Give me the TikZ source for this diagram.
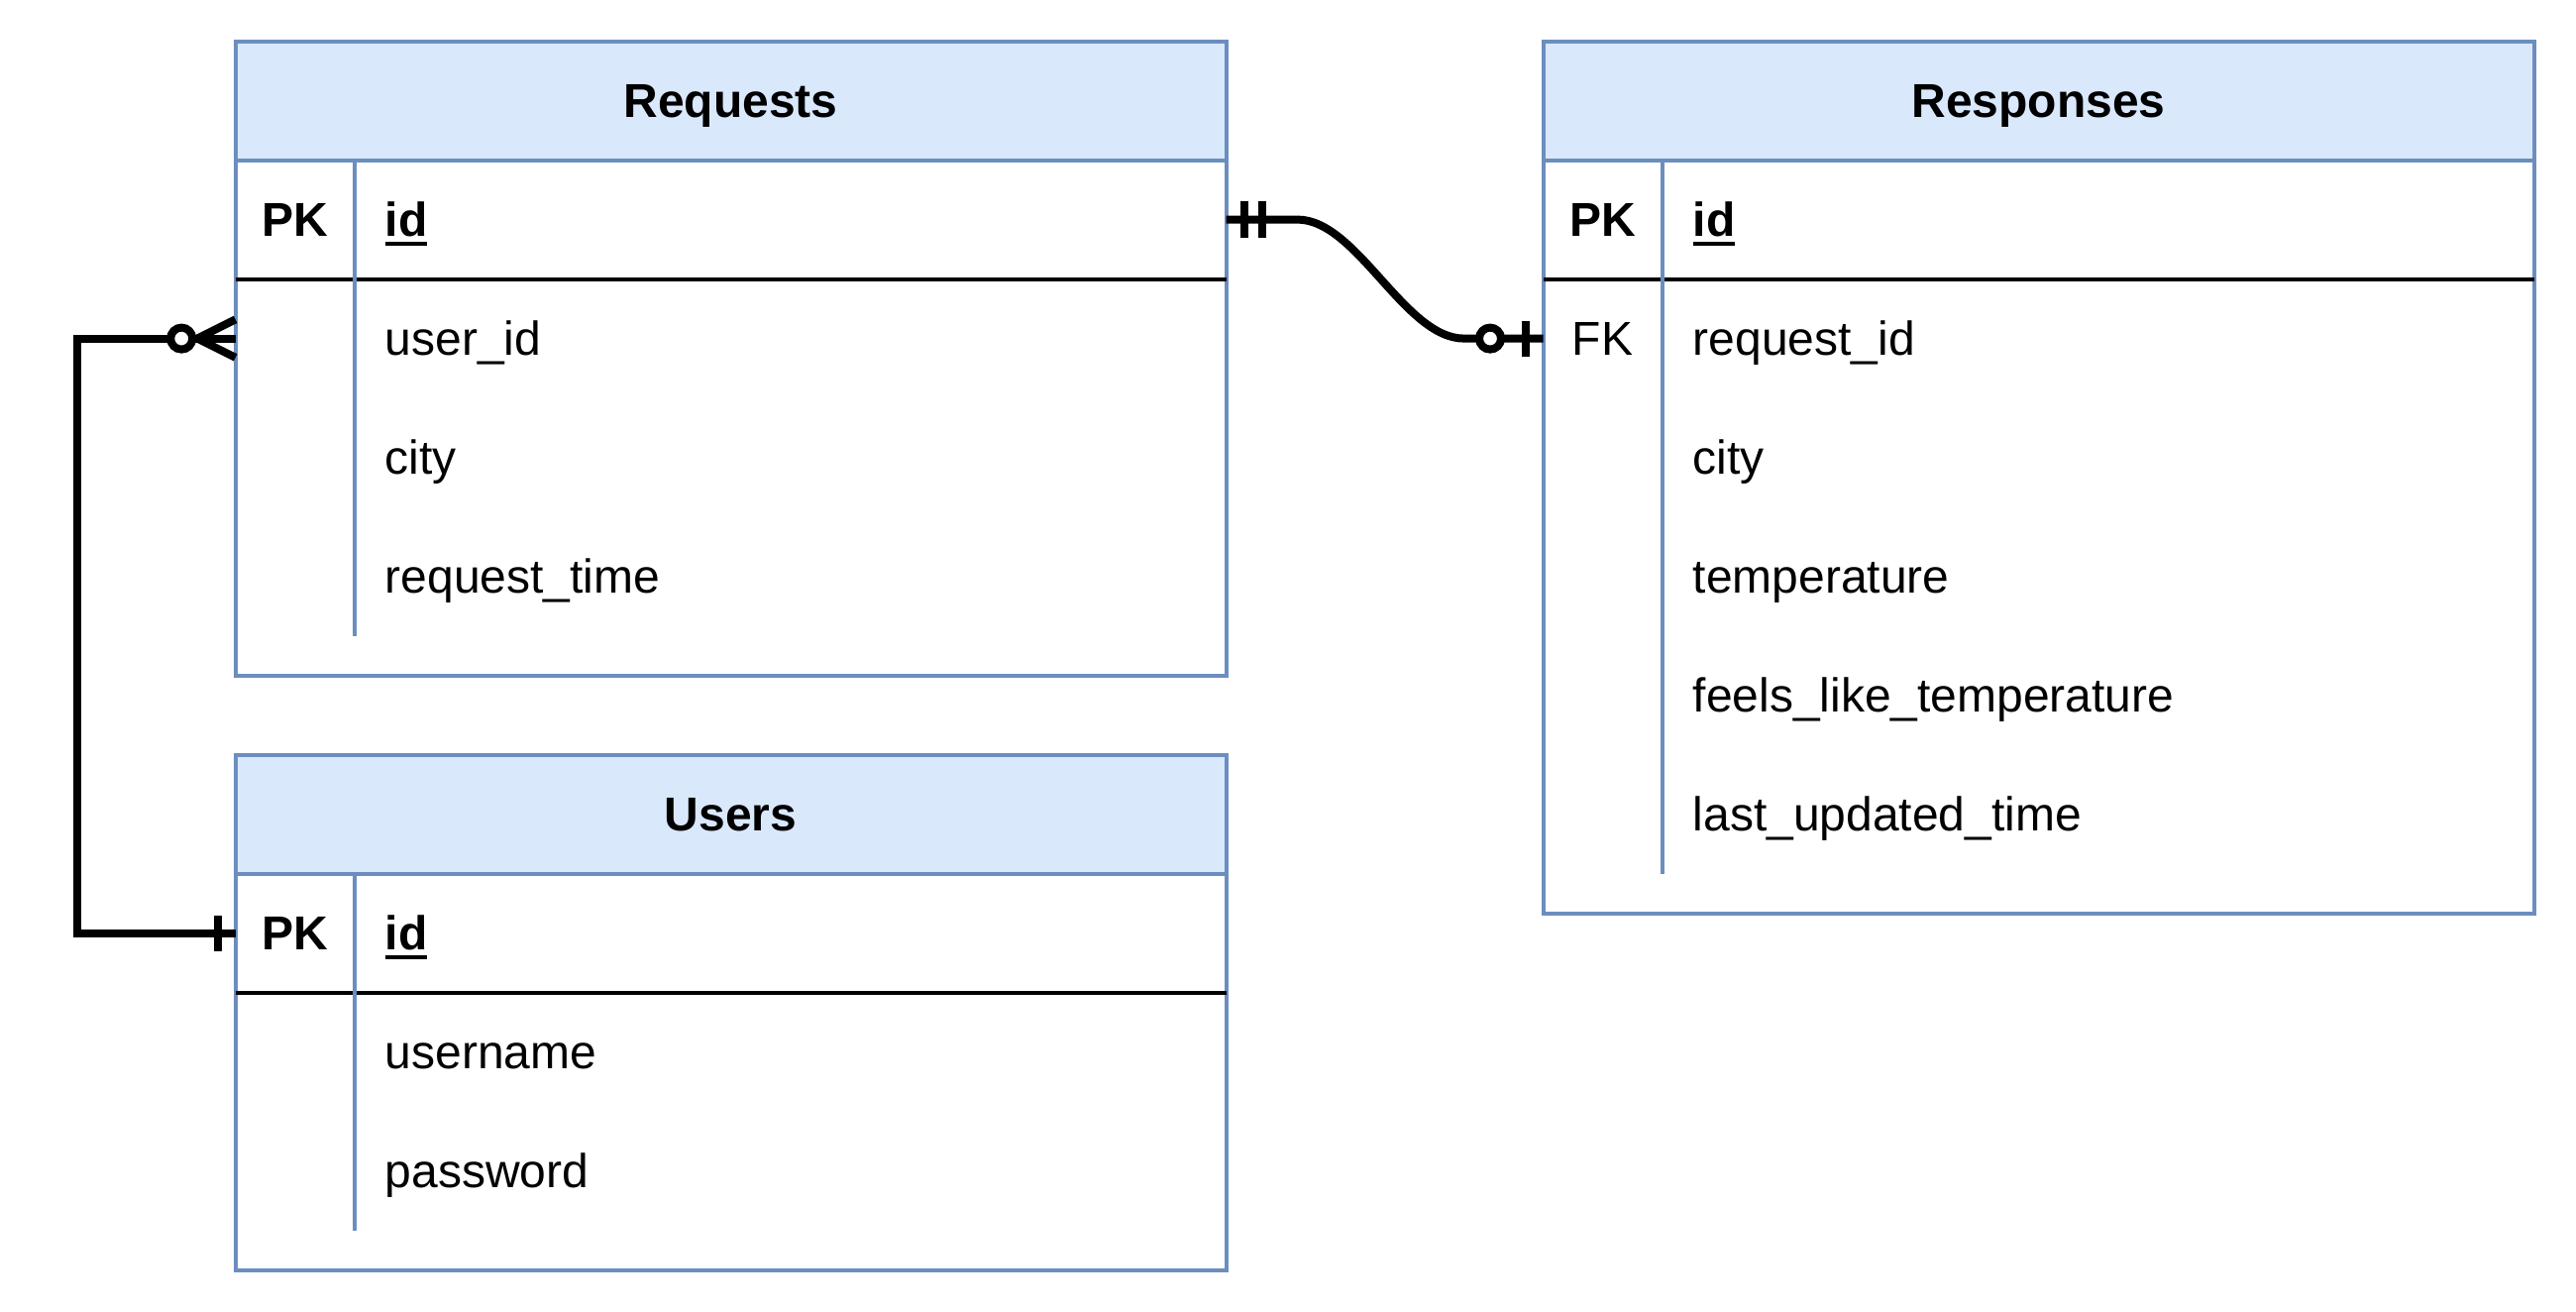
\documentclass[tikz,border=0pt]{standalone}
\usepackage{fontspec}
\setmainfont{Liberation Sans}
\usetikzlibrary{calc}
\definecolor{tblstroke}{HTML}{6C8EBF}
\definecolor{tblfill}{HTML}{DAE8FC}
\newcommand\twelve{\fontsize{12}{14.4}\selectfont}
\newcommand\keyul[1]{\setbox0\hbox{\bfseries #1}\rlap{\rule[-2.4pt]{\wd0}{1pt}}\box0}
\tikzset{
  tbl/.style={draw=tblstroke, line width=1pt, fill=white, inner sep=0pt, outer sep=0pt, anchor=north west, minimum width=250pt},
  hdr/.style={draw=tblstroke, line width=1pt, fill=tblfill, inner sep=0pt, outer sep=0pt, anchor=north west, minimum width=250pt, minimum height=30pt, font=\twelve\bfseries, text height=8.6pt, text depth=0pt},
  rowbox/.style={inner sep=0pt, outer sep=0pt, anchor=north west, minimum width=250pt, minimum height=30pt},
  fieldtxt/.style={inner sep=0pt, anchor=west, font=\twelve, text height=8.6pt, text depth=0pt},
  keytxt/.style={inner sep=0pt, anchor=center, font=\twelve\bfseries, text height=8.6pt, text depth=0pt},
  fktxt/.style={inner sep=0pt, anchor=center, font=\twelve, text height=8.6pt, text depth=0pt},
  pkline/.style={draw=black, line width=1pt},
  sepline/.style={draw=tblstroke, line width=1pt},
  rel/.style={draw=black, line width=2pt, line join=miter},
  relmark/.style={draw=black, line width=2pt},
  relcircle/.style={draw=black, line width=2pt, fill=white},
}
\begin{document}
\begin{tikzpicture}[x=1pt,y=-1pt]
\useasboundingbox (0,0) rectangle (650,331);

% ---------- Requests ----------
\node[tbl, minimum height=160pt] (req) at (59.4,10.4) {};
\node[hdr] (reqh) at (59.4,10.4) {Requests};
\node[rowbox] (reqpk) at (59.4,40.4) {};
\node[rowbox] (requid) at (59.4,70.4) {};
\draw[pkline] (reqpk.south west) -- (reqpk.south east);
\draw[sepline] ($(reqpk.north west)+(30,0)$) -- ++(0,120);
\node[keytxt] (reqpkt) at (74.4,55.4) {PK};
\node[fieldtxt] (reqid) at (97,55.4) {\keyul{id}};
\node[fieldtxt] (requserid) at (97,85.4) {user\_id};
\node[fieldtxt] (reqcity) at (97,115.4) {city};
\node[fieldtxt] (reqtime) at (97,145.4) {request\_time};

% ---------- Users ----------
\node[tbl, minimum height=130pt] (usr) at (59.4,190.4) {};
\node[hdr] (usrh) at (59.4,190.4) {Users};
\node[rowbox] (usrpk) at (59.4,220.4) {};
\draw[pkline] (usrpk.south west) -- (usrpk.south east);
\draw[sepline] ($(usrpk.north west)+(30,0)$) -- ++(0,90);
\node[keytxt] (usrpkt) at (74.4,235.4) {PK};
\node[fieldtxt] (usrid) at (97,235.4) {\keyul{id}};
\node[fieldtxt] (usrname) at (97,265.4) {username};
\node[fieldtxt] (usrpass) at (97,295.4) {password};

% ---------- Responses ----------
\node[tbl, minimum height=220pt] (resp) at (389.4,10.4) {};
\node[hdr] (resph) at (389.4,10.4) {Responses};
\node[rowbox] (resppk) at (389.4,40.4) {};
\node[rowbox] (respfk) at (389.4,70.4) {};
\draw[pkline] (resppk.south west) -- (resppk.south east);
\draw[sepline] ($(resppk.north west)+(30,0)$) -- ++(0,180);
\node[keytxt] (resppkt) at (404.4,55.4) {PK};
\node[fieldtxt] (respid) at (427,55.4) {\keyul{id}};
\node[fktxt] (respfkt) at (404.4,85.4) {FK};
\node[fieldtxt] (respreqid) at (427,85.4) {request\_id};
\node[fieldtxt] (respcity) at (427,115.4) {city};
\node[fieldtxt] (resptemp) at (427,145.4) {temperature};
\node[fieldtxt] (respfeels) at (427,175.4) {feels\_like\_temperature};
\node[fieldtxt] (resplast) at (427,205.4) {last\_updated\_time};

% ---------- Requests.id -> Responses.request_id ----------
\coordinate (ca) at ($(reqpk.east)+(18,0)$);
\coordinate (cb) at ($(respfk.west)+(-20,0)$);
\draw[rel] (reqpk.east) -- (ca) .. controls +(15,0) and +(-15,0) .. (cb) -- (respfk.west);
\draw[relmark] ($(reqpk.east)+(4.6,-4.6)$) -- ++(0,9.2);
\draw[relmark] ($(reqpk.east)+(9.1,-4.6)$) -- ++(0,9.2);
\draw[relcircle] ($(respfk.west)+(-13.4,0)$) circle[radius=2.75pt];
\draw[relmark] ($(respfk.west)+(-4.4,-4.5)$) -- ++(0,9);

% ---------- Users.id -> Requests.user_id ----------
\coordinate (bendx) at (19.4,0);
\draw[rel] (usrpk.west) -- (usrpk.west -| bendx) -- (requid.west -| bendx) -- (requid.west);
\draw[relmark, line join=round] ($(requid.west)+(0,-4.8)$) -- ($(requid.west)+(-9.6,0)$) -- ($(requid.west)+(0,4.8)$);
\draw[relcircle] ($(requid.west)+(-13.6,0)$) circle[radius=2.75pt];
\draw[relmark] ($(usrpk.west)+(-4.4,-4.5)$) -- ++(0,9);
\end{tikzpicture}
\end{document}
